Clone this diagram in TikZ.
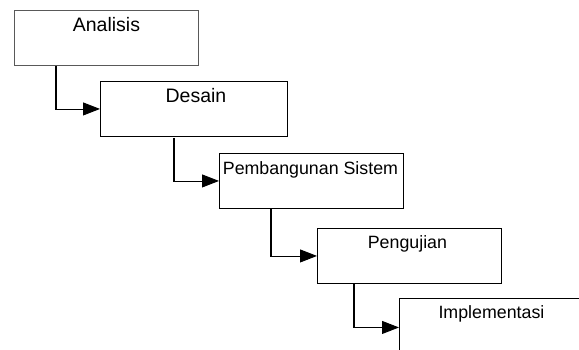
\documentclass[tikz,border=0pt]{standalone}
\usepackage{fontspec}
\setmainfont{Liberation Sans}
\usetikzlibrary{arrows.meta,calc}
\begin{document}
\begin{tikzpicture}[x=1pt,y=-1pt,
  stagebox/.style={draw=black,line width=0.9pt,minimum width=#1,minimum height=55pt,inner sep=0pt,anchor=north west},
  stagebox/.default=184pt,
  bigtxt/.style={font=\fontsize{19.5}{20}\selectfont,anchor=base,inner sep=0pt},
  smalltxt/.style={font=\fontsize{17.8}{19}\selectfont,anchor=base,inner sep=0pt},
  vline/.style={line width=2pt,black},
  hline/.style={line width=0.9pt,black,-{Triangle[length=17pt,width=13pt]}}
]
\clip (0,0) rectangle (579,349);
\fill[white] (0,0) rectangle (579,349);
% boxes
\node[stagebox,draw=black!65] (b1) at (14,10) {};
\node[stagebox=187pt] (b2) at (100,81) {};
\node[stagebox] (b3) at (219,153) {};
\node[stagebox] (b4) at (317,228) {};
\node[stagebox,minimum height=58pt] (b5) at (399,298) {};
% texts
\node[bigtxt] (t1) at ($(b1.north)+(0,21.5)$) {Analisis};
\node[bigtxt] (t2) at ($(b2.north)+(2,21)$) {Desain};
\node[smalltxt] (t3) at ($(b3.north)+(-1,21)$) {Pembangunan Sistem};
\node[smalltxt] (t4) at ($(b4.north)+(-2,20.5)$) {Pengujian};
\node[smalltxt] (t5) at ($(b5.north)+(0,20.5)$) {Implementasi};
% connectors
\coordinate (c1) at ($(b1.south west)+(42,0)$);
\coordinate (k1) at (c1 |- b2.west);
\draw[vline] (c1) -- (k1);
\draw[hline] ($(k1)+(-1,0)$) -- (b2.west);
\coordinate (c2) at ($(b2.south west)+(74,1)$);
\coordinate (k2) at (c2 |- b3.west);
\draw[vline] (c2) -- (k2);
\draw[hline] ($(k2)+(-1,0)$) -- (b3.west);
\coordinate (c3) at ($(b3.south west)+(52,0)$);
\coordinate (k3) at (c3 |- b4.west);
\draw[vline] (c3) -- (k3);
\draw[hline] ($(k3)+(-1,0)$) -- (b4.west);
\coordinate (c4) at ($(b4.south west)+(37,0)$);
\coordinate (k4) at (c4 |- b5.west);
\draw[vline] (c4) -- (k4);
\draw[hline] ($(k4)+(-1,0)$) -- (b5.west);
\end{tikzpicture}
\end{document}
